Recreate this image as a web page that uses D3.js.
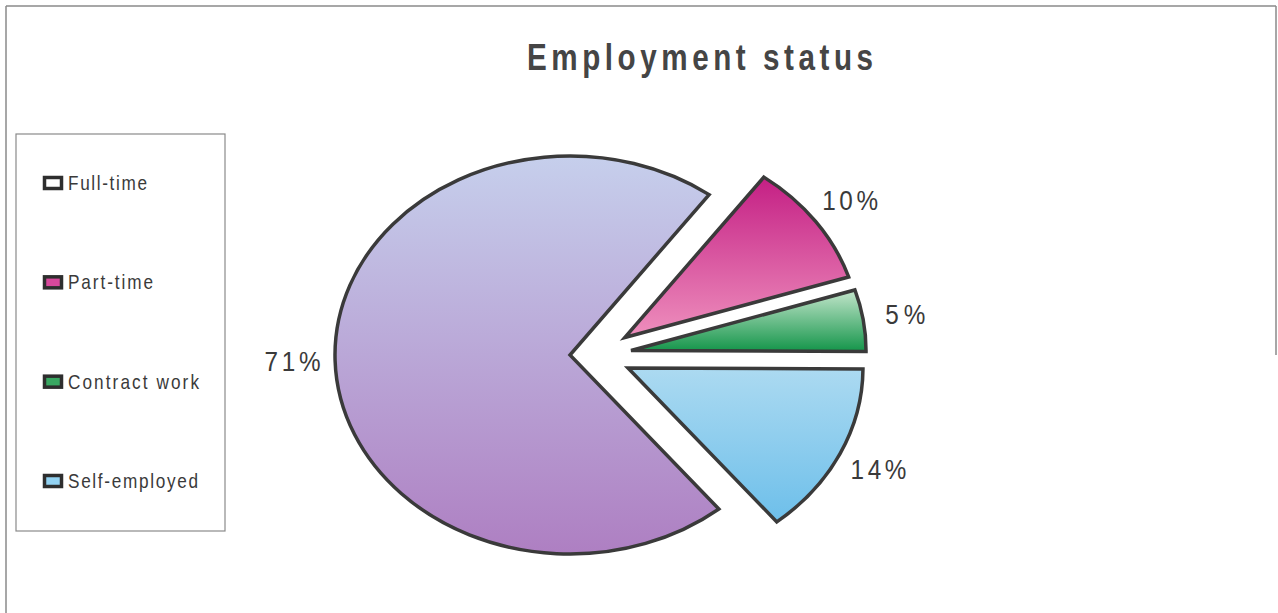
<!DOCTYPE html>
<html>
<head>
<meta charset="utf-8">
<script src="https://cdn.jsdelivr.net/npm/d3@7"></script>
<style>
  html, body { margin: 0; padding: 0; background: #fff; }
  svg { display: block; }
</style>
</head>
<body>
<svg id="chart"></svg>
<script>
// Employment status — exploded elliptical pie with a boxed legend on the left.

const categories = ['Full-time', 'Part-time', 'Contract work', 'Self-employed'];
const shares = [71, 10, 5, 14];
const shareLabels = ['71%', '10%', '5%', '14%'];
const exploded = [false, true, true, true];
const fillTop = ['#c6cfec', '#c41f84', '#c4e6cc', '#acdaf1'];
const fillBottom = ['#ae7fc2', '#ee8fbd', '#14954a', '#6dbfea'];
const swatchFill = ['#ffffff', '#d8489c', '#39a862', '#92d2f2'];

(function () {
  const W = 1278, H = 613;
  const svg = d3.select('#chart').attr('width', W).attr('height', H);
  const font = '"Liberation Sans", Arial, sans-serif';
  const ink = '#3a3a3a';

  // the scan uses a condensed face; squeeze regular glyphs and spread them to a width
  function narrowText(sel, x, y, str, size, width, anchor, squeeze) {
    const k = squeeze || 0.86;
    return sel.append('g')
      .attr('transform', `translate(${x},${y}) scale(${k},1)`)
      .append('text')
      .attr('text-anchor', anchor || 'start')
      .attr('dominant-baseline', 'central')
      .attr('font-family', font)
      .attr('font-size', size)
      .attr('fill', ink)
      .attr('textLength', width / k)
      .attr('lengthAdjust', 'spacing')
      .text(str);
  }

  // frame (only the parts visible in the scan)
  const frame = svg.append('g').attr('stroke', '#8a8a8a').attr('stroke-width', 1.5);
  frame.append('line').attr('x1', 6).attr('y1', 6).attr('x2', 1276).attr('y2', 6);
  frame.append('line').attr('x1', 6).attr('y1', 6).attr('x2', 6).attr('y2', H);
  frame.append('line').attr('x1', 1276).attr('y1', 6).attr('x2', 1276).attr('y2', 355);

  // title
  narrowText(svg, 700, 57, 'Employment status', 37, 346, 'middle', 0.8)
    .attr('font-weight', 'bold')
    .attr('fill', '#454545');

  // gradients, one per slice
  const defs = svg.append('defs');
  categories.forEach((c, i) => {
    const g = defs.append('linearGradient')
      .attr('id', 'grad' + i)
      .attr('x1', 0).attr('y1', 0).attr('x2', 0).attr('y2', 1);
    g.append('stop').attr('offset', '0%').attr('stop-color', fillTop[i]);
    g.append('stop').attr('offset', '100%').attr('stop-color', fillBottom[i]);
  });

  // pie: circle of radius ry, stretched horizontally to the ellipse
  const cx = 570, cy = 355, rx = 235, ry = 199;
  const sx = rx / ry;
  const a0 = 140.7 * Math.PI / 180;
  const pie = d3.pie().sort(null).value(d => d).startAngle(a0).endAngle(a0 + 2 * Math.PI);
  const arcs = pie(shares);
  const arc = d3.arc().innerRadius(0).outerRadius(ry);

  const explodeR = 30, explodeShift = 26, labelR = 235;
  const root = svg.append('g').attr('transform', `translate(${cx},${cy})`);

  arcs.forEach((a, i) => {
    const mid = (a.startAngle + a.endAngle) / 2;
    const ox = exploded[i] ? explodeShift + explodeR * Math.sin(mid) * sx : 0;
    const oy = exploded[i] ? -explodeR * Math.cos(mid) : 0;

    root.append('g')
      .attr('transform', `translate(${ox},${oy}) scale(${sx},1)`)
      .append('path')
      .attr('d', arc(a))
      .attr('fill', `url(#grad${i})`)
      .attr('stroke', ink)
      .attr('stroke-width', 3.5)
      .attr('stroke-linejoin', 'miter')
      .attr('vector-effect', 'non-scaling-stroke');

    const lx = ox + labelR * Math.sin(mid) * sx;
    const ly = oy - labelR * Math.cos(mid);
    narrowText(root, lx, ly, shareLabels[i], 27, shareLabels[i].length === 2 ? 40 : 56, 'middle', 0.9);
  });

  // legend
  const lg = svg.append('g');
  lg.append('rect')
    .attr('x', 16).attr('y', 134).attr('width', 209).attr('height', 397)
    .attr('fill', 'none').attr('stroke', '#8a8a8a').attr('stroke-width', 1.2);

  const legendW = [79, 85, 131, 130];
  const rowY = d3.scalePoint().domain(categories).range([183, 481]);
  categories.forEach((c, i) => {
    const y = rowY(c);
    lg.append('rect')
      .attr('x', 44.5).attr('y', y - 5.5).attr('width', 17).attr('height', 11)
      .attr('fill', swatchFill[i]).attr('stroke', '#2e2e2e').attr('stroke-width', 3.5);
    narrowText(lg, 68, y, c, 20, legendW[i]);
  });
})();
</script>
</body>
</html>
